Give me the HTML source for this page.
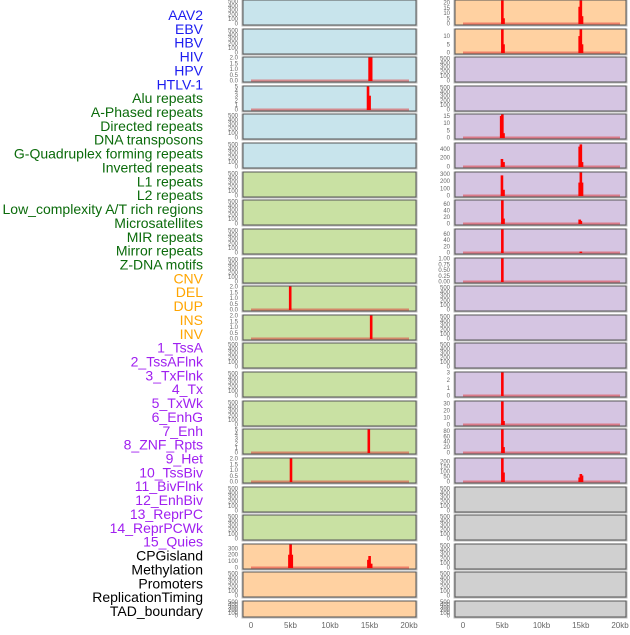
<!DOCTYPE html>
<html><head><meta charset="utf-8"><style>
body{margin:0;background:#fff;width:630px;height:630px;overflow:hidden;font-family:"Liberation Sans",sans-serif}
</style></head><body>
<svg id="chart" width="630" height="630" viewBox="0 0 630 630" xmlns="http://www.w3.org/2000/svg" style="font-family:'Liberation Sans',sans-serif"></svg>
<script>
const labels=["AAV2","EBV","HBV","HIV","HPV","HTLV-1","Alu repeats","A-Phased repeats","Directed repeats","DNA transposons","G-Quadruplex forming repeats","Inverted repeats","L1 repeats","L2 repeats","Low_complexity A/T rich regions","Microsatellites","MIR repeats","Mirror repeats","Z-DNA motifs","CNV","DEL","DUP","INS","INV","1_TssA","2_TssAFlnk","3_TxFlnk","4_Tx","5_TxWk","6_EnhG","7_Enh","8_ZNF_Rpts","9_Het","10_TssBiv","11_BivFlnk","12_EnhBiv","13_ReprPC","14_ReprPCWk","15_Quies","CPGisland","Methylation","Promoters","ReplicationTiming","TAD_boundary"];
const labelGroups=[6,13,5,15,5];
const groupColors=["#1c1cf0","#0b6b0b","#ffa500","#a020f0","#000"];
const xTicks=[0,5,10,15,20];
const xTickLabels=["0","5kb","10kb","15kb","20kb"];
const E=[0,100,200,300,400,500];
// left column
const leftFill=["b","b","b","b","b","b","g","g","g","g","g","g","g","g","g","g","g","g","g","o","o","o"];
const leftMax=[520,520,2,5,520,520,520,520,520,520,2,2,520,520,520,5,2,520,520,360,520,520];
const leftTicks=[E,E,[0,0.5,1,1.5,2],[0,1,2,3,4,5],E,E,E,E,E,E,[0,0.5,1,1.5,2],[0,0.5,1,1.5,2],E,E,E,[0,1,2,3,4,5],[0,0.5,1,1.5,2],E,E,[0,100,200,300],E,E];
const leftBars=[[],[],[[15.0,2],[15.2,2]],[[14.8,5],[15.0,3]],[],[],[],[],[],[],[[4.95,2]],[[15.2,2]],[],[],[],[[14.9,5]],[[5.05,2]],[],[],[[4.85,200],[5.0,360],[5.15,200],[14.85,120],[15.0,180],[15.2,60]],[],[]];
// right column
const rightFill=["o","o","p","p","p","p","p","p","p","p","p","p","p","p","p","p","p","y","y","y","y","y"];
const rightMax=[22,14,520,520,16,520,320,70,75,1,520,520,520,3,33,85,230,520,520,520,520,520];
const rightTicks=[[0,5,10,15,20],[0,5,10],E,E,[0,5,10,15],[0,200,400],[0,100,200,300],[0,20,40,60],[0,20,40,60],[0,0.25,0.5,0.75,1],E,E,E,[0,1,2,3],[0,10,20,30],[0,20,40,60,80],[0,50,100,150,200],E,E,E,E,E];
const rightBars=[[[5.0,22],[5.15,5],[14.85,16],[15.0,22],[15.15,7]],[[5.0,14],[5.15,5],[14.85,10],[15.0,14],[15.15,5]],[],[],[[4.85,15],[5.0,16],[5.15,3]],[[4.95,170],[5.15,100],[14.85,450],[15.0,500],[15.15,100]],[[4.95,280],[5.15,80],[14.85,180],[15.0,320],[15.15,180]],[[5.0,70],[5.15,15],[14.85,12],[15.0,8]],[[5.0,75],[15.0,3]],[[5.0,1]],[],[],[],[[5.0,3]],[[5.0,33],[5.15,5]],[[5.0,85],[5.15,20]],[[5.0,230],[5.15,90],[14.85,40],[15.0,75],[15.15,60]],[],[],[],[],[]];
const hasBase=(bars)=>bars.length>0;

const fills={b:"#c8e4ec",g:"#c9e1a3",o:"#ffd1a1",p:"#d5c5e2",y:"#d0d0d0"};
const svg=document.getElementById('chart');
const NS="http://www.w3.org/2000/svg";
function mk(tag,attrs,parent){const e=document.createElementNS(NS,tag);for(const k in attrs)e.setAttribute(k,attrs[k]);(parent||svg).appendChild(e);return e;}

// labels
let li=0;
labelGroups.forEach((n,g)=>{for(let j=0;j<n;j++){const t=mk('text',{x:203,y:15+li*13.86+5,'text-anchor':'end','font-size':14,fill:groupColors[g]});


t.textContent=labels[li];li++;}});

function rowTop(i){return Math.round(i*28.62);}
function rowH(i){return i===21?16:25;}
function panel(col,i,fillKey,ymax,ticks,bars){
  const x0=col?455:243,x1=col?626:416,ax0=col?463:251,ax1=col?620:409;
  const top=rowTop(i),h=rowH(i),bot=top+h;
  const g=mk('g',{});
  
  
  mk('rect',{x:x0-1,y:top,width:x1-x0+2,height:h+1,fill:'none',stroke:'#bbb','stroke-width':1},g);
  mk('rect',{x:x0,y:top,width:x1-x0,height:h,fill:fills[fillKey],stroke:'#555','stroke-width':1},g);
  const xs=kb=>ax0+(ax1-ax0)*kb/20;
  const ys=v=>bot-1.5-(h-2)*v/ymax;
  ticks.forEach(v=>{const t=mk('text',{x:x0-5,y:ys(v)+2,'text-anchor':'end','font-size':6,fill:'#666'},g);
    
    
    t.textContent=(ymax<=1.01?v.toFixed(2):(ymax<=2.01?v.toFixed(1):v));});
  if(hasBase(bars)){const b=mk('rect',{x:xs(0),y:bot-2.5,width:xs(20)-xs(0),height:2,fill:'#e03030',opacity:0.5},g);
    
    }
  bars.forEach(([kb,v])=>{const yy=ys(v);const r=mk('rect',{x:xs(kb)-1.2,y:yy,width:2.6,height:Math.max(0,bot-1-yy),fill:'#ff0000'},g);
    
    });
}
for(let i=0;i<22;i++){panel(0,i,leftFill[i],leftMax[i],leftTicks[i],leftBars[i]);panel(1,i,rightFill[i],rightMax[i],rightTicks[i],rightBars[i]);}
[0,1].forEach(col=>{const ax0=col?463:251,ax1=col?620:409;
  xTicks.forEach((k,j)=>{const t=mk('text',{x:ax0+(ax1-ax0)*k/20,y:628,'text-anchor':'middle','font-size':8,fill:'#666'});
    
    
    t.textContent=xTickLabels[j];});});
</script>
</body></html>
